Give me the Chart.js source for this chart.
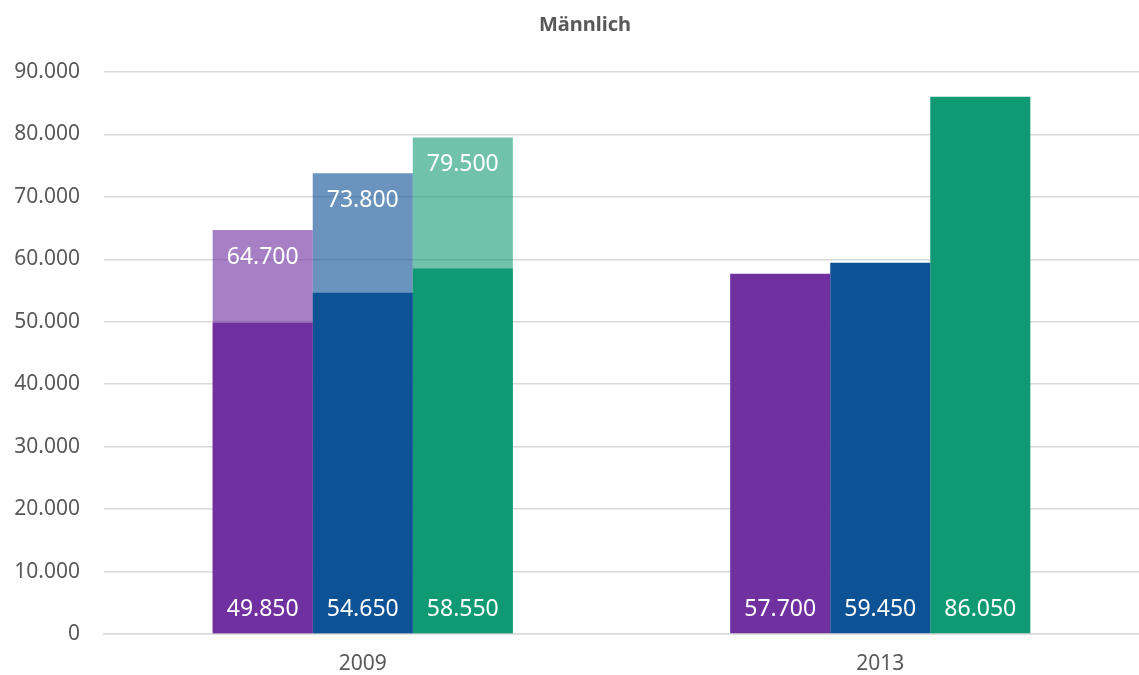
<!DOCTYPE html>
<html>
<head>
<meta charset="utf-8">
<script src="https://cdn.jsdelivr.net/npm/chart.js@4/dist/chart.umd.min.js"></script>
<style>
  html, body { margin: 0; padding: 0; background: #ffffff; }
  #wrap { width: 1139px; height: 675px; }
</style>
</head>
<body>
<div id="wrap"><canvas id="c" width="1139" height="675"></canvas></div>
<script>
// Categories and values
const years = ['2009', '2013'];
const seriesNames = ['Reihe 1', 'Reihe 2', 'Reihe 3'];
const baseValues = [
  [49850, 57700],
  [54650, 59450],
  [58550, 86050]
];
const upperValues = [
  [64700, null],
  [73800, null],
  [79500, null]
];
const yTicks = [0, 10000, 20000, 30000, 40000, 50000, 60000, 70000, 80000, 90000];
const chartTitle = 'Männlich';

const solidColors = ['#7030A0', '#0E5296', '#109A73'];
const lightColors = ['rgba(112,48,160,0.62)', 'rgba(14,82,150,0.62)', 'rgba(16,154,115,0.60)'];
const stackKeys = ['p', 'b', 'g'];

const fmt = new Intl.NumberFormat('de-DE');
const FONT = '"Noto Sans", "Open Sans", sans-serif';

const datasets = [];
baseValues.forEach((vals, i) => {
  datasets.push({
    label: seriesNames[i],
    data: vals,
    backgroundColor: solidColors[i],
    stack: stackKeys[i],
    labelPos: 'bottom',
    order: 0
  });
});
upperValues.forEach((vals, i) => {
  datasets.push({
    label: seriesNames[i] + ' (gesamt)',
    data: vals,
    backgroundColor: lightColors[i],
    stack: stackKeys[i],
    labelPos: 'top',
    order: 1
  });
});

// Writes the values into the bars
const valueLabels = {
  id: 'valueLabels',
  afterDatasetsDraw(chart) {
    const ctx = chart.ctx;
    const yScale = chart.scales.y;
    ctx.save();
    ctx.font = '23px ' + FONT;
    ctx.fillStyle = '#ffffff';
    ctx.textAlign = 'center';
    ctx.textBaseline = 'middle';
    chart.data.datasets.forEach((ds, di) => {
      const meta = chart.getDatasetMeta(di);
      meta.data.forEach((bar, idx) => {
        const v = ds.data[idx];
        if (v === null || v === undefined) return;
        const y = ds.labelPos === 'bottom' ? yScale.getPixelForValue(0) - 25 : bar.y + 27;
        ctx.fillText(fmt.format(v), bar.x, y);
      });
    });
    ctx.restore();
  }
};

// Chart heading, set slightly right of the canvas centre
const heading = {
  id: 'heading',
  afterDraw(chart) {
    const ctx = chart.ctx;
    ctx.save();
    ctx.font = 'bold 20px ' + FONT;
    ctx.fillStyle = '#595959';
    ctx.textAlign = 'center';
    ctx.textBaseline = 'middle';
    ctx.fillText(chartTitle, 585, 25);
    ctx.restore();
  }
};

new Chart(document.getElementById('c'), {
  type: 'bar',
  data: { labels: years, datasets },
  options: {
    responsive: false,
    animation: false,
    layout: { padding: { left: 0, right: 0, top: 72, bottom: 0 } },
    categoryPercentage: 0.58,
    barPercentage: 1,
    plugins: {
      legend: { display: false },
      tooltip: { enabled: false },
      title: { display: false }
    },
    scales: {
      x: {
        stacked: true,
        grid: { display: false, drawTicks: false },
        border: { display: true, color: '#D9D9D9', width: 1.5 },
        afterFit(scale) { scale.height = 41; },
        ticks: { color: '#595959', font: { family: FONT, size: 21 }, padding: 17 }
      },
      y: {
        stacked: false,
        min: 0,
        max: 90000,
        afterBuildTicks(scale) { scale.ticks = yTicks.map(v => ({ value: v })); },
        afterFit(scale) { scale.width = 104; },
        grid: { color: '#D9D9D9', lineWidth: 1.5, drawTicks: false },
        border: { display: false },
        ticks: {
          color: '#595959',
          font: { family: FONT, size: 21 },
          padding: 24,
          callback: v => fmt.format(v)
        }
      }
    }
  },
  plugins: [valueLabels, heading]
});
</script>
</body>
</html>
